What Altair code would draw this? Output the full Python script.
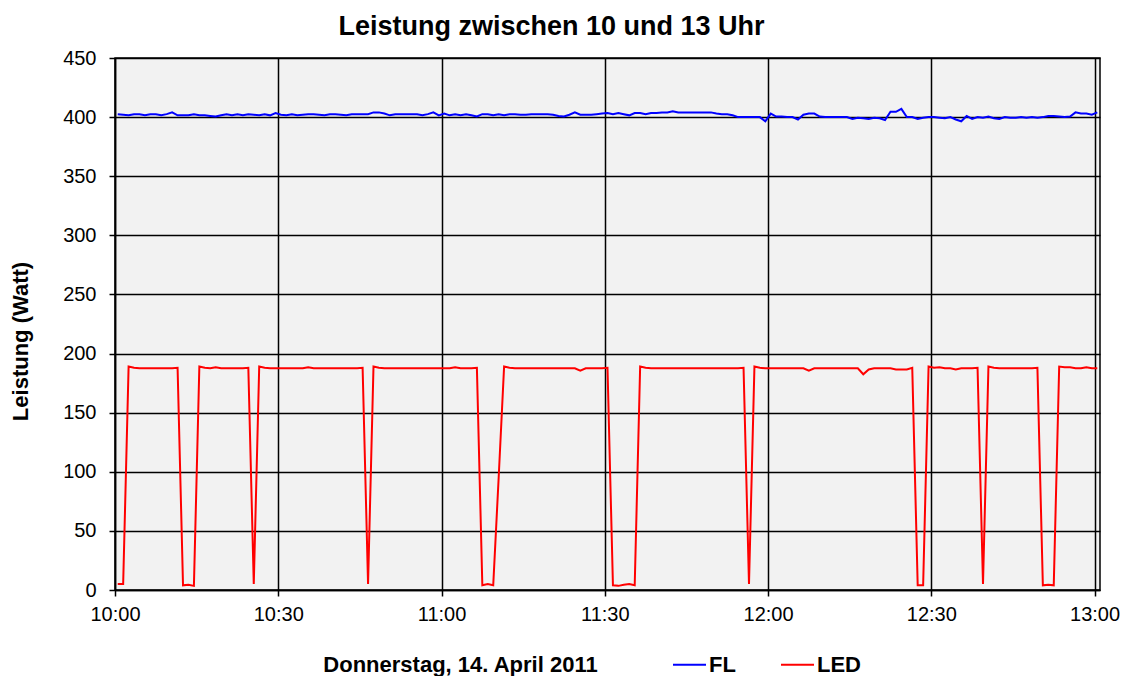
import altair as alt
import pandas as pd

FONT = "Liberation Sans"

# FL (blue) readings, one per minute (sample at hh:mm:30), 10:00 .. 13:00
fl = [402.5, 402, 401.5, 402.5, 402.5, 401.5, 402.5, 402.5, 401.5, 402.5,
      404, 401.5, 401.5, 401.5, 402.5, 401.5, 401.5, 401, 400.5, 401.5,
      402.5, 401.5, 402.5, 401.5, 402.5, 402, 401.5, 402.5, 401.5, 403.5,
      402, 401.5, 402.5, 401.5, 402, 402.5, 402.5, 402, 401.5, 402.5,
      402.5, 402, 401.5, 402.5, 402.5, 402.5, 402.5, 404, 404, 403,
      401.5, 402.5, 402.5, 402.5, 402.5, 402.5, 401.5, 402.5, 404, 401.5,
      403, 401.5, 402.5, 401.5, 402.5, 401.5, 400.5, 402.5, 402.5, 401.5,
      402.5, 401.5, 402.5, 402.5, 402, 402, 402.5, 402.5, 402.5, 402.5,
      402, 401, 400.5, 402, 404, 402, 402, 402, 402.5, 403,
      403.5, 402.5, 403.5, 402.5, 401.5, 403.5, 403.5, 402.5, 403.5, 403.5,
      404, 404, 405, 404, 404, 404, 404, 404, 404, 404,
      403, 402.5, 402.5, 401.5, 400, 400, 400, 400, 400, 396.5,
      403, 400.5, 400.5, 400, 400, 398, 402, 403, 403, 400.5,
      400, 400, 400, 400, 400, 398.5, 399.5, 399, 398.5, 399.5,
      399, 397.5, 404.5, 404.5, 407, 400, 400, 398.5, 399.5, 400,
      400, 399.5, 399, 400, 398, 396.5, 401, 398.5, 400, 399.5,
      400.5, 399, 398.5, 400, 399.5, 399.5, 400, 399.5, 400, 399.5,
      400, 401, 401, 400.5, 400, 400.5, 404, 403, 403, 402,
      404]

# LED (red) readings, same sample times
led = [5, 5, 189, 188, 187.5, 187.5, 187.5, 187.5, 187.5, 187.5,
       187.5, 188, 4, 4.5, 3.5, 189, 188, 187.5, 188.5, 187.5,
       187.5, 187.5, 187.5, 187.5, 188, 5, 189, 188, 187.5, 187.5,
       187.5, 187.5, 187.5, 187.5, 187.5, 188.5, 187.5, 187.5, 187.5, 187.5,
       187.5, 187.5, 187.5, 187.5, 187.5, 188, 5, 189, 188, 187.5,
       187.5, 187.5, 187.5, 187.5, 187.5, 187.5, 187.5, 187.5, 187.5, 187.5,
       187.5, 187.5, 188.5, 187.5, 187.5, 187.5, 188, 4, 5, 4,
       95, 189, 188, 187.5, 187.5, 187.5, 187.5, 187.5, 187.5, 187.5,
       187.5, 187.5, 187.5, 187.5, 187.5, 185.5, 187.5, 187.5, 187.5, 187.5,
       188, 4, 3.5, 4.5, 5, 4, 189, 188, 187.5, 187.5,
       187.5, 187.5, 187.5, 187.5, 187.5, 187.5, 187.5, 187.5, 187.5, 187.5,
       187.5, 187.5, 187.5, 187.5, 187.5, 188, 5, 189, 188, 187.5,
       187.5, 187.5, 187.5, 187.5, 187.5, 187.5, 187.5, 185.5, 187.5, 187.5,
       187.5, 187.5, 187.5, 187.5, 187.5, 187.5, 187.5, 182.5, 186.5, 187.5,
       187.5, 187.5, 187.5, 186.5, 186.5, 186.5, 188, 4, 4, 189,
       188, 188.5, 187.5, 187.5, 186.5, 187.5, 187.5, 187.5, 188, 5,
       189, 188, 187.5, 187.5, 187.5, 187.5, 187.5, 187.5, 187.5, 188,
       4, 4.5, 4, 189, 188.5, 188.5, 187.5, 187.5, 188.5, 187.5,
       187.5]

series = ["FL", "LED"]
colors = ["#0000ff", "#ff0000"]
x_ticks = ["10:00", "10:30", "11:00", "11:30", "12:00", "12:30", "13:00"]
y_ticks = [0, 50, 100, 150, 200, 250, 300, 350, 400, 450]

start = pd.Timestamp("2011-04-14 10:00:30")
times = [(start + pd.Timedelta(minutes=i)).strftime("%Y-%m-%dT%H:%M:%S") for i in range(len(fl))]

df = pd.DataFrame({
    "time": times + times,
    "Leistung": fl + led,
    "Serie": [series[0]] * len(fl) + [series[1]] * len(led),
})


def dt(hm):
    h, m = hm.split(":")
    return alt.DateTime(year=2011, month=4, date=14, hours=int(h), minutes=int(m))


chart = alt.Chart(df).mark_line(strokeWidth=2, clip=True).encode(
    x=alt.X(
        "time:T",
        scale=alt.Scale(domain=[dt("10:00"), dt("13:01")], nice=False),
        axis=alt.Axis(
            values=[dt(t) for t in x_ticks],
            format="%H:%M",
            title="Donnerstag, 14. April 2011",
            titleFont=FONT, titleFontSize=22, titleFontWeight="bold", titleColor="black",
            titleX=345, titleY=74, titleAlign="center", titleBaseline="middle",
            labelFont=FONT, labelFontSize=20, labelColor="black",
            labelFlush=False, labelOverlap=False, labelPadding=8,
            tickSize=6, tickColor="black", tickWidth=1.5,
            domainColor="black", domainWidth=1.5,
            grid=True, gridColor="black", gridWidth=1.5, gridOpacity=1,
        ),
    ),
    y=alt.Y(
        "Leistung:Q",
        scale=alt.Scale(domain=[0, 450], nice=False),
        axis=alt.Axis(
            values=y_ticks,
            title="Leistung (Watt)",
            titleFont=FONT, titleFontSize=22, titleFontWeight="bold", titleColor="black",
            titleX=-95, titleY=283, titleAngle=-90, titleAlign="center", titleBaseline="middle",
            labelFont=FONT, labelFontSize=20, labelColor="black", labelPadding=13,
            labelFlush=False, labelOverlap=False,
            tickSize=6, tickColor="black", tickWidth=1.5,
            domainColor="black", domainWidth=1.5,
            grid=True, gridColor="black", gridWidth=1.5, gridOpacity=1,
        ),
    ),
    color=alt.Color(
        "Serie:N",
        scale=alt.Scale(domain=series, range=colors),
        legend=alt.Legend(
            title=None, orient="none", legendX=557, legendY=589,
            direction="horizontal", symbolType="stroke", symbolSize=1089,
            symbolStrokeWidth=2, labelFont=FONT, labelFontSize=22,
            labelFontWeight="bold", labelColor="black", labelOffset=2,
            columnPadding=41, padding=0,
        ),
    ),
).properties(
    width=985,
    height=532,
    title=alt.Title(
        "Leistung zwischen 10 und 13 Uhr",
        font=FONT, fontSize=27, fontWeight="bold", color="black",
        anchor="middle", dx=-56, offset=7,
    ),
    autosize=alt.AutoSizeParams(type="none"),
    padding={"left": 107, "top": 50, "right": 26, "bottom": 86},
    background="white",
).configure_view(
    fill="#f2f2f2", stroke="black", strokeWidth=1.5,
)

chart.save("out.html", embed_options={"renderer": "svg", "actions": False})
